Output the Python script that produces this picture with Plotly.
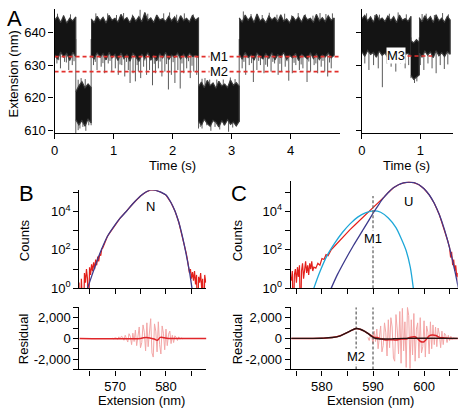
import numpy as np
import plotly.graph_objects as go

W, H = 464, 418
FONT = "Liberation Sans, Arial, Helvetica, sans-serif"

# ---------------- Panel A: extension trace (nm) vs time (s) ----------------
# segment boundaries (s) and noise envelope (upper / lower, nm) of each dwell
a1_bounds = [0.0, 0.36, 0.62, 2.44, 3.13, 4.74]
a1_hi_1 = [643.8, 644.9, 643.1, 645.2, 642.9, 644.4, 643.6, 644.8]
a1_lo_1 = [633.2, 631.8, 634.0, 632.5, 633.6, 631.4, 633.9, 632.6]
a1_hi_2 = [621.8, 623.6, 624.9, 623.0, 624.2, 623.1]
a1_lo_2 = [613.2, 611.6, 612.9, 611.2, 613.4, 612.2]
a1_hi_3 = [644.2, 643.1, 645.0, 643.6, 644.7, 642.9, 645.3, 643.8, 644.4, 643.2, 645.6, 643.9,
           644.6, 643.0, 645.1, 643.5, 644.9, 643.3, 646.2, 643.7, 644.5, 643.1, 645.4, 643.9,
           644.3, 643.4, 645.0, 643.6, 644.8, 643.0, 645.2, 643.7, 644.4, 643.3, 645.3, 643.8, 644.6]
a1_lo_3 = [633.0, 631.9, 633.8, 632.4, 633.5, 631.6, 633.9, 632.2, 633.3, 631.4, 633.7, 632.0,
           633.2, 631.2, 633.6, 632.5, 631.1, 633.4, 632.0, 633.8, 631.5, 632.9, 631.3, 633.5,
           632.2, 633.9, 631.7, 633.1, 632.4, 633.7, 631.9, 633.3, 632.1, 633.6, 632.6, 633.0, 632.3]
a1_hi_4 = [623.4, 624.8, 623.0, 625.3, 623.7, 624.5, 622.9, 625.0, 623.6, 624.2, 623.1, 625.4,
           623.8, 624.6, 623.5]
a1_lo_4 = [612.8, 611.5, 613.4, 612.0, 611.2, 613.0, 612.4, 611.0, 612.9, 611.6, 613.2, 611.8,
           612.5, 611.3, 612.7]
a1_hi_5 = [644.5, 643.2, 645.4, 643.8, 644.9, 643.1, 645.7, 643.6, 644.3, 643.0, 645.1, 643.9,
           644.7, 643.3, 645.5, 643.5, 644.2, 643.0, 645.0, 643.7, 644.8, 643.2, 645.3, 643.9,
           644.4, 643.1, 645.6, 643.6, 644.6, 643.4, 645.2, 643.8, 644.5]
a1_lo_5 = [633.4, 631.8, 633.9, 632.3, 633.1, 631.5, 633.7, 632.6, 631.9, 633.5, 632.1, 633.8,
           631.6, 633.2, 632.4, 633.9, 631.8, 633.0, 632.2, 633.6, 631.4, 633.3, 632.7, 631.9,
           633.8, 632.0, 633.4, 631.7, 633.1, 632.5, 633.7, 632.2, 633.0]

# spikes (time s, extreme nm) around the high (638) and low (618) states
a1_high_level = 638.0
a1_low_level = 618.0
a1_down_t = [0.04, 0.10, 0.17, 0.24, 0.30, 0.36, 0.62,
             0.66, 0.72, 0.79, 0.85, 0.91, 0.97, 1.03, 1.08, 1.14, 1.19, 1.25, 1.28, 1.33, 1.37,
             1.42, 1.46, 1.51, 1.56, 1.61, 1.66, 1.71, 1.76, 1.82, 1.87, 1.93, 1.98, 2.04, 2.09,
             2.13, 2.19, 2.24, 2.30, 2.36, 2.41, 2.44, 3.13,
             3.18, 3.24, 3.30, 3.37, 3.43, 3.49, 3.55, 3.61, 3.67, 3.73, 3.79, 3.85, 3.91, 3.97,
             4.03, 4.09, 4.15, 4.21, 4.28, 4.34, 4.40, 4.46, 4.52, 4.58, 4.63, 4.69]
a1_down_y = [630.5, 629.0, 631.0, 628.5, 630.0, 608.8, 611.5,
             630.0, 628.5, 629.5, 627.5, 630.5, 628.0, 629.0, 627.0, 630.0, 626.5, 628.5, 624.5,
             627.5, 625.0, 628.0, 626.0, 629.5, 627.0, 628.5, 623.8, 627.5, 629.0, 626.5, 628.0,
             622.5, 627.0, 624.5, 628.5, 622.8, 627.5, 629.0, 626.0, 628.0, 627.0, 610.5, 612.5,
             629.0, 627.0, 630.0, 624.8, 628.5, 630.0, 627.5, 629.5, 628.0, 630.5, 627.0, 628.0,
             629.5, 625.2, 627.5, 630.0, 628.5, 629.0, 624.8, 628.0, 630.0, 627.5, 629.5, 628.0,
             626.5, 629.0]
a1_down2_t = [0.07, 0.20, 0.33, 0.69, 0.82, 0.94, 1.11, 1.22, 1.40, 1.53, 1.69, 1.79, 1.90,
              2.01, 2.16, 2.27, 2.33, 3.21, 3.34, 3.46, 3.58, 3.70, 3.82, 3.94, 4.06, 4.18,
              4.31, 4.43, 4.55, 4.66]
a1_down2_y = [631.5, 630.8, 631.2, 631.0, 630.6, 631.3, 630.2, 631.0, 630.0, 631.4, 630.4,
              631.1, 630.3, 630.9, 630.5, 631.2, 629.8, 631.0, 630.6, 631.3, 630.1, 631.0,
              630.4, 631.2, 630.7, 630.2, 631.1, 630.5, 631.3, 630.8]
a1_up_t = [0.05, 0.15, 0.27, 0.70, 0.90, 1.05, 1.17, 1.32, 1.45, 1.58, 1.73, 1.85, 1.95, 2.07,
           2.2, 2.35, 3.2, 3.33, 3.52, 3.64, 3.77, 3.9, 4.02, 4.13, 4.25, 4.38, 4.5, 4.6, 4.71]
a1_up_y = [645.8, 645.3, 645.6, 645.9, 645.9, 645.4, 646.0, 645.5, 647.0, 645.8, 645.3, 645.9,
           646.2, 645.5, 645.9, 645.6, 646.5, 645.7, 645.4, 646.1, 645.5, 645.8, 645.3, 646.0,
           645.6, 645.2, 646.0, 645.7, 645.9]
a1_lowdown_t = [0.40, 0.43, 0.48, 0.53, 0.58, 2.47, 2.50, 2.58, 2.65, 2.72, 2.80, 2.87, 2.95,
                3.02, 3.08]
a1_lowdown_y = [610.0, 610.5, 611.0, 609.8, 611.5, 611.0, 610.5, 611.5, 609.8, 611.0, 610.2,
                611.5, 609.5, 610.8, 611.5]
a1_lowup_t = [0.40, 0.45, 0.52, 2.50, 2.55, 2.63, 2.75, 2.86, 2.98, 3.06]
a1_lowup_y = [625.5, 626.0, 625.7, 625.8, 626.0, 625.6, 625.8, 626.1, 626.2, 625.7]

# second trace (right of panel A)
a2_bounds = [0.0, 0.84, 0.98, 1.51]
a2_hi_1 = [644.2, 645.3, 643.6, 644.8, 643.2, 645.6, 643.9, 644.5, 643.4, 645.1, 643.7, 644.9,
           643.0, 645.4, 643.8, 644.3, 643.5, 645.0]
a2_lo_1 = [634.1, 632.7, 634.5, 633.3, 633.9, 632.4, 634.3, 633.0, 633.7, 632.2, 634.4, 633.1,
           634.0, 632.5, 634.2, 633.4, 633.6, 632.9]
a2_hi_2 = [637.5, 636.8, 637.8, 637.0]
a2_lo_2 = [626.8, 625.6, 626.3, 627.0]
a2_hi_3 = [644.6, 643.3, 645.2, 643.8, 644.9, 643.1, 645.5, 643.6, 644.4, 643.2, 645.0, 643.9]
a2_lo_3 = [633.7, 632.5, 634.3, 633.1, 634.0, 632.3, 634.4, 632.9, 633.8, 632.6, 634.1, 633.3]
a2_high_level = 638.5
a2_down_t = [0.05, 0.12, 0.20, 0.28, 0.35, 0.43, 0.50, 0.58, 0.66, 0.74, 0.80, 0.84,
             0.98, 1.00, 1.06, 1.13, 1.20, 1.27, 1.34, 1.41, 1.47]
a2_down_y = [630.5, 628.5, 630.0, 629.0, 623.2, 630.5, 629.5, 628.0, 630.5, 629.0, 630.0, 626.0,
             627.0, 630.0, 628.5, 630.5, 629.0, 627.5, 630.0, 628.8, 630.2]
a2_up_t = [0.08, 0.22, 0.30, 0.47, 0.62, 0.76, 1.03, 1.10, 1.24, 1.38, 1.48]
a2_up_y = [645.9, 645.4, 645.5, 645.8, 646.2, 645.6, 645.7, 645.8, 645.4, 646.0, 645.6]
a2_dip_level = 632.0
a2_dipdown_t = [0.90, 0.94]
a2_dipdown_y = [624.5, 625.0]

# intermediate levels (nm)
m1_level = 632.6
m2_level = 628.0
m3_level = 632.8
m3_span = [0.78, 1.20]

# ---------------- Panel B: histogram (log10 counts) ----------------
b_fit_x = [564.6, 565.5, 566.5, 567.3, 568.5, 570.0, 571.0, 572.2, 573.5, 575.0, 576.0, 577.0,
           578.0, 579.0, 580.0, 581.0, 581.8, 582.5, 583.0, 583.6, 584.2, 584.7, 585.1]
b_fit_log = [0.0, 0.7, 1.45, 2.0, 2.7, 3.3, 3.65, 4.0, 4.4, 4.8, 5.0, 5.12,
             5.1, 5.0, 4.85, 4.45, 4.0, 3.45, 2.95, 2.25, 1.45, 0.73, 0.0]
b_hist_left_start = 563.0
b_hist_left_log = [0.3, -2, 0.5, 0.0, -2, 0.8, 0.3, 1.0, 0.5, -2, 1.1, 0.7, 1.25, 0.9, 1.35,
                   1.0, 1.5, 1.2, 1.65, 1.4, 1.8, 1.7, 2.05]
b_hist_mid_x = [567.6, 568.0, 568.5, 569.0, 570.0, 571.0, 572.2, 573.5, 575.0, 576.0, 577.0,
                578.0, 579.0, 580.0, 581.0, 581.8, 582.5, 583.0, 583.6, 584.0]
b_hist_mid_log = [2.1, 2.35, 2.7, 2.9, 3.3, 3.65, 4.0, 4.4, 4.8, 5.0, 5.12,
                  5.1, 5.0, 4.85, 4.45, 4.0, 3.45, 2.95, 2.3, 1.8]
b_hist_right_start = 584.2
b_hist_right_log = [1.5, 1.1, 0.8, 1.0, 0.5, 0.85, 0.4, 0.9, 0.2, 0.7, -2, 0.6, 0.3, 0.8, 0.0,
                    0.5, -2, 0.7, 0.3]
b_res_start = 569.5
b_res_raw = [20, -40, 60, 30, -80, 150, -60, 200, 120, -180, 300, -150, -350, 450, 200, -600,
             500, -300, 800, -700, 300, 1100, -900, -400, 1300, 600, -1200, 1500, -800, 1000,
             1900, -1400, -1800, 1400, 700, -1300, 1600, -600, -1500, 1200, 500, -1100, 900,
             -700, 400, 700, -500, 300, -400, 250, 100, -200, 150, -80, 50, -30, 0]
b_res_smooth_x = [563.0, 575.0, 575.6, 576.2, 577.0, 577.7, 578.3, 578.9, 579.6, 580.5, 588.0]
b_res_smooth = [0, 0, 60, 80, 20, -60, -180, 100, 60, 0, 0]

# ---------------- Panel C: histogram (log10 counts) ----------------
c_U_x = [581.8, 583.0, 584.5, 586.0, 587.5, 589.0, 590.0, 591.0, 592.0, 593.0, 594.0, 595.0,
         596.0, 597.0, 598.0, 599.0, 600.0, 601.0, 602.0, 603.0, 604.0, 605.0, 606.0, 606.5, 606.8]
c_U_log = [0.0, 0.7, 1.45, 2.15, 2.8, 3.45, 3.9, 4.3, 4.68, 4.98, 5.22, 5.38,
           5.48, 5.52, 5.49, 5.38, 5.17, 4.86, 4.42, 3.82, 3.05, 2.1, 0.95, 0.3, -0.1]
c_M1_x = [578.4, 579.5, 581.0, 582.5, 584.0, 585.5, 587.0, 588.5, 590.2, 591.5, 593.0, 594.5,
          595.5, 596.5, 597.3, 597.9]
c_M1_log = [0.0, 0.8, 1.7, 2.35, 2.9, 3.35, 3.7, 3.92, 4.02, 3.95, 3.65, 3.15,
            2.6, 1.95, 1.1, 0.0]
c_hist_left_start = 574.0
c_hist_left_log = [0.4, 0.9, -2, 0.7, 1.0, 0.3, 1.1, 0.6, 1.2, -2, 0.9, 1.3, 0.5, 1.1, 1.4, 0.8,
                   1.2, 0.7, 1.3, 1.0, 1.4, 0.9, 1.1]
c_hist_mid_x = [578.8, 579.2, 579.6, 580.0, 580.4, 580.8, 581.2, 581.8, 582.5, 583.5, 584.5,
                585.5, 586.5, 587.5, 588.5, 589.5, 590.5, 591.5, 592.2, 593.0, 594.0, 595.0,
                596.0, 597.0, 598.0, 599.0, 600.0, 601.0, 602.0, 603.0, 604.0, 604.6]
c_hist_mid_log = [1.05, 1.3, 1.2, 1.55, 1.5, 1.75, 1.7, 2.0, 2.2, 2.5, 2.8, 3.05, 3.3, 3.55,
                  3.8, 4.05, 4.3, 4.55, 4.75, 4.98, 5.22, 5.38, 5.48, 5.52, 5.49, 5.38, 5.17,
                  4.86, 4.42, 3.82, 3.05, 2.5]
c_hist_right_start = 605.0
c_hist_right_log = [2.1, 1.6, 1.9, 1.2, 1.5, 0.9, 1.2, 0.6, 0.8, 0.2]
c_res_start = 589.0
c_res_raw = [100, -200, 300, 150, -500, 700, -300, 900, -1000, 400, 1200, -1300, -700, 1500,
             600, -1700, 1800, -900, 2000, 1100, -1900, -2200, 2300, 800, -1500, 2600, -2400,
             2900, -1200, 1600, -2800, 3000, 2200, -2900, 1800, -1600, 2400, -2200, 900, 1500,
             -1900, 2000, -1400, -800, 1700, -1800, 1200, 600, -1500, 1600, -1000, 1300, -600,
             1100, -800, 1000, 400, -900, 700, -600, 500, 300, -400, 300, -200, 200, -100, 50, 0]
c_res_fit_x = [574.0, 580.0, 582.0, 583.6, 585.5, 586.7, 587.5, 588.3, 589.0, 589.6, 590.2,
               591.0, 592.0, 594.0, 596.0, 606.8]
c_res_fit = [0, 20, 80, 250, 700, 950, 880, 700, 480, 250, 60, -40, -60, -40, 0, 0]
c_res_smooth_x = [574.0, 580.0, 582.0, 583.6, 585.5, 586.7, 587.5, 588.3, 589.0, 589.6, 590.2,
                  590.8, 591.5, 592.5, 593.5, 594.5, 595.5, 596.5, 597.4, 598.2, 598.8, 599.3,
                  600.0, 600.5, 601.0, 601.6, 602.3, 603.0, 604.0, 605.0, 606.8]
c_res_smooth = [0, 20, 80, 250, 700, 950, 880, 700, 480, 300, 120, 80, -20, -150, -120, -160,
                -60, -50, 120, 150, -50, -300, -320, -50, 250, 320, 280, 100, 40, 0, 0]
c_m1_pos = 590.0
c_m2_pos = 586.7

# ---------------- colours ----------------
BLACK = "#141414"
GREY = "#5a5a5a"
RED_DASH = "#e2302c"
RED = "#e3201b"
PINK = "#f3a6a6"
PURPLE = "#3d3a8c"
CYAN = "#1ea7d8"
DARK = "#2a1212"

fig = go.Figure()


def band(t0, t1, hi, lo):
    th = np.linspace(t0, t1, len(hi))
    tl = np.linspace(t0, t1, len(lo))
    return list(th) + list(tl[::-1]), list(hi) + list(lo[::-1])


def spikes(ts, ys, base):
    xs, yv = [], []
    for t, v in zip(ts, ys):
        xs += [t, t, None]
        yv += [base, v, None]
    return xs, yv


def add_spikes(ts, ys, base, xa, ya):
    xs, yv = spikes(ts, ys, base)
    fig.add_trace(go.Scatter(x=xs, y=yv, mode="lines", line=dict(color=GREY, width=1),
                             xaxis=xa, yaxis=ya, hoverinfo="skip"))


def add_band(t0, t1, hi, lo, xa, ya):
    bx, by = band(t0, t1, hi, lo)
    fig.add_trace(go.Scatter(x=bx, y=by, mode="lines", fill="toself", fillcolor=BLACK,
                             line=dict(color="#3a3a3a", width=1.2), xaxis=xa, yaxis=ya,
                             hoverinfo="skip"))


# --- Panel A1
add_spikes(a1_down_t, a1_down_y, a1_high_level, "x", "y")
add_spikes(a1_down2_t, a1_down2_y, a1_high_level, "x", "y")
add_spikes(a1_up_t, a1_up_y, a1_high_level, "x", "y")
add_spikes(a1_lowdown_t, a1_lowdown_y, a1_low_level, "x", "y")
add_spikes(a1_lowup_t, a1_lowup_y, a1_low_level, "x", "y")
a1_his = [a1_hi_1, a1_hi_2, a1_hi_3, a1_hi_4, a1_hi_5]
a1_los = [a1_lo_1, a1_lo_2, a1_lo_3, a1_lo_4, a1_lo_5]
for i in range(5):
    add_band(a1_bounds[i], a1_bounds[i + 1], a1_his[i], a1_los[i], "x", "y")
a1_xmax = 4.84
for lvl in (m1_level, m2_level):
    fig.add_trace(go.Scatter(x=[0, a1_xmax], y=[lvl, lvl], mode="lines",
                             line=dict(color=RED_DASH, width=1.6, dash="4px,3px"),
                             xaxis="x", yaxis="y", hoverinfo="skip"))

# --- Panel A2
add_spikes(a2_down_t, a2_down_y, a2_high_level, "x2", "y2")
add_spikes(a2_up_t, a2_up_y, a2_high_level, "x2", "y2")
add_spikes(a2_dipdown_t, a2_dipdown_y, a2_dip_level, "x2", "y2")
a2_his = [a2_hi_1, a2_hi_2, a2_hi_3]
a2_los = [a2_lo_1, a2_lo_2, a2_lo_3]
for i in range(3):
    add_band(a2_bounds[i], a2_bounds[i + 1], a2_his[i], a2_los[i], "x2", "y2")
fig.add_trace(go.Scatter(x=m3_span, y=[m3_level, m3_level], mode="lines",
                         line=dict(color=RED_DASH, width=1.6, dash="4px,3px"),
                         xaxis="x2", yaxis="y2", hoverinfo="skip"))

# --- Panel B histogram
b_left_x = b_hist_left_start + 0.2 * np.arange(len(b_hist_left_log))
b_right_x = b_hist_right_start + 0.2 * np.arange(len(b_hist_right_log))
b_hx = list(b_left_x) + b_hist_mid_x + list(b_right_x)
b_hl = b_hist_left_log + b_hist_mid_log + b_hist_right_log
fig.add_trace(go.Scatter(x=b_hx, y=np.power(10.0, b_hl), mode="lines",
                         line=dict(color=RED, width=1.2), xaxis="x3", yaxis="y3"))
fig.add_trace(go.Scatter(x=b_fit_x, y=np.power(10.0, b_fit_log), mode="lines",
                         line=dict(color=PURPLE, width=1.3, shape="spline", smoothing=0.8),
                         xaxis="x3", yaxis="y3"))

# --- Panel B residual
b_res_x = b_res_start + 0.25 * np.arange(len(b_res_raw))
fig.add_trace(go.Scatter(x=b_res_x, y=b_res_raw, mode="lines", line=dict(color=PINK, width=1),
                         xaxis="x4", yaxis="y4"))
fig.add_trace(go.Scatter(x=b_res_smooth_x, y=b_res_smooth, mode="lines",
                         line=dict(color="#e0262a", width=1.5, shape="spline"),
                         xaxis="x4", yaxis="y4"))

# --- Panel C histogram
c_left_x = c_hist_left_start + 0.2 * np.arange(len(c_hist_left_log))
c_right_x = c_hist_right_start + 0.2 * np.arange(len(c_hist_right_log))
c_hx = list(c_left_x) + c_hist_mid_x + list(c_right_x)
c_hl = c_hist_left_log + c_hist_mid_log + c_hist_right_log
fig.add_trace(go.Scatter(x=c_hx, y=np.power(10.0, c_hl), mode="lines",
                         line=dict(color=RED, width=1.2), xaxis="x5", yaxis="y5"))
fig.add_trace(go.Scatter(x=c_M1_x, y=np.power(10.0, c_M1_log), mode="lines",
                         line=dict(color=CYAN, width=1.3, shape="spline", smoothing=0.8),
                         xaxis="x5", yaxis="y5"))
fig.add_trace(go.Scatter(x=c_U_x, y=np.power(10.0, c_U_log), mode="lines",
                         line=dict(color=PURPLE, width=1.3, shape="spline", smoothing=0.8),
                         xaxis="x5", yaxis="y5"))
fig.add_trace(go.Scatter(x=[c_m1_pos, c_m1_pos], y=[1.0, 10 ** 4.8], mode="lines",
                         line=dict(color="#666666", width=1.3, dash="3px,2px"),
                         xaxis="x5", yaxis="y5"))

# --- Panel C residual
c_res_x = c_res_start + 0.25 * np.arange(len(c_res_raw))
fig.add_trace(go.Scatter(x=c_res_x, y=c_res_raw, mode="lines", line=dict(color=PINK, width=1),
                         xaxis="x6", yaxis="y6"))
for pos in (c_m2_pos, c_m1_pos):
    fig.add_trace(go.Scatter(x=[pos, pos], y=[-3000, 3000], mode="lines",
                             line=dict(color="#666666", width=1.3, dash="3px,2px"),
                             xaxis="x6", yaxis="y6"))
fig.add_trace(go.Scatter(x=c_res_smooth_x, y=c_res_smooth, mode="lines",
                         line=dict(color="#e0262a", width=1.5, shape="spline"),
                         xaxis="x6", yaxis="y6"))
fig.add_trace(go.Scatter(x=c_res_fit_x, y=c_res_fit, mode="lines",
                         line=dict(color=DARK, width=1.4, shape="spline"),
                         xaxis="x6", yaxis="y6"))


# ---------------- layout ----------------
def dom_x(a, b):
    return [a / W, b / W]


def dom_y(top, bottom):
    return [1 - bottom / H, 1 - top / H]


tickfont = dict(family=FONT, size=13, color="black")
base = dict(showline=True, linecolor="black", linewidth=1.2, ticks="outside", ticklen=5,
            tickwidth=1, tickcolor="black", showgrid=False, zeroline=False, tickfont=tickfont,
            fixedrange=True)


def minor(vals):
    return dict(tickmode="array", tickvals=vals, ticks="outside", ticklen=5, tickwidth=1,
                tickcolor="black", showgrid=False)


log_major = [1, 100, 1e4]
log_text = ["10<sup>0</sup>", "10<sup>2</sup>", "10<sup>4</sup>"]
log_minor = [10, 1000, 1e5]

layout = dict(
    width=W, height=H, margin=dict(l=0, r=0, t=0, b=0),
    paper_bgcolor="white", plot_bgcolor="white", showlegend=False,
    font=dict(family=FONT, size=13, color="black"),
    xaxis=dict(base, domain=dom_x(51, 339), range=[0, a1_xmax], tickvals=[0, 1, 2, 3, 4],
               anchor="y"),
    yaxis=dict(base, domain=dom_y(9, 136), range=[609, 647.3], tickvals=[610, 620, 630, 640],
               anchor="x"),
    xaxis2=dict(base, domain=dom_x(361, 453), range=[0, 1.56], tickvals=[0, 1], anchor="y2"),
    yaxis2=dict(base, domain=dom_y(9, 136), range=[609, 647.3], tickvals=[610, 620, 630, 640],
                showticklabels=False, anchor="x2"),
    xaxis3=dict(base, domain=dom_x(76, 204), range=[563.0, 587.9],
                tickvals=[565, 570, 575, 580, 585], showticklabels=False, anchor="y3"),
    yaxis3=dict(base, type="log", domain=dom_y(194, 294), range=[0, 5.1],
                tickvals=log_major, ticktext=log_text, minor=minor(log_minor), anchor="x3"),
    xaxis4=dict(base, domain=dom_x(76, 204), range=[563.0, 587.9],
                tickvals=[570, 580], minor=minor([565, 575, 585]), anchor="y4"),
    yaxis4=dict(base, domain=dom_y(313.3, 376.7), range=[-3000, 3000],
                tickvals=[-2000, 0, 2000], ticktext=["-2,000", "0", "2,000"],
                minor=minor([-3000, -1000, 1000, 3000]), anchor="x4"),
    xaxis5=dict(base, domain=dom_x(289.3, 457.7), range=[573.9, 606.6],
                tickvals=[575, 580, 585, 590, 595, 600, 605], showticklabels=False, anchor="y5"),
    yaxis5=dict(base, type="log", domain=dom_y(185, 294), range=[0, 5.55],
                tickvals=log_major, ticktext=log_text, minor=minor(log_minor), anchor="x5"),
    xaxis6=dict(base, domain=dom_x(289.3, 457.7), range=[573.9, 606.6],
                tickvals=[580, 590, 600], minor=minor([575, 585, 595, 605]), anchor="y6"),
    yaxis6=dict(base, domain=dom_y(313.3, 376.7), range=[-3000, 3000],
                tickvals=[-2000, 0, 2000], ticktext=["-2,000", "0", "2,000"],
                minor=minor([-3000, -1000, 1000, 3000]), anchor="x6"),
)
fig.update_layout(**layout)


def pann(text, x, y, size=13, angle=0):
    fig.add_annotation(text=text, x=x / W, y=1 - y / H, xref="paper", yref="paper",
                       showarrow=False, textangle=angle, xanchor="center", yanchor="middle",
                       font=dict(family=FONT, size=size, color="black"))


def dann(text, x, y, xa, ya, bg=None):
    fig.add_annotation(text=text, x=x, y=y, xref=xa, yref=ya, showarrow=False,
                       xanchor="center", yanchor="middle", bgcolor=bg, borderpad=0,
                       font=dict(family=FONT, size=13, color="black"))


pann("A", 10.5, 18.5, size=22)
pann("B", 22.5, 197, size=22)
pann("C", 237, 197, size=22)
pann("Extension (nm)", 10, 75, angle=-90)
pann("Time (s)", 170, 168.5)
pann("Time (s)", 406, 168.5)
pann("Counts", 20, 245, angle=-90)
pann("Counts", 235, 245, angle=-90)
pann("Residual", 20, 345, angle=-90)
pann("Residual", 235, 345, angle=-90)
pann("Extension (nm)", 138.5, 408.5)
pann("Extension (nm)", 370, 408.5)

dann("M1", 2.78, m1_level, "x", "y", bg="white")
dann("M2", 2.78, m2_level, "x", "y", bg="white")
dann("M3", 0.58, m3_level, "x2", "y2", bg="white")
dann("N", 576.9, 4.28, "x3", "y3")
dann("U", 596.95, 4.53, "x5", "y5")
dann("M1", c_m1_pos, 2.6, "x5", "y5", bg="white")
dann("M2", c_m2_pos, -1714, "x6", "y6", bg="white")

fig.write_html(
    "out.html", config={"displayModeBar": False},
    post_script=("document.documentElement.style.margin='0px';"
                 "document.body.style.margin='0px';document.body.style.padding='0px';"
                 "window.scrollTo(0,0);"))
